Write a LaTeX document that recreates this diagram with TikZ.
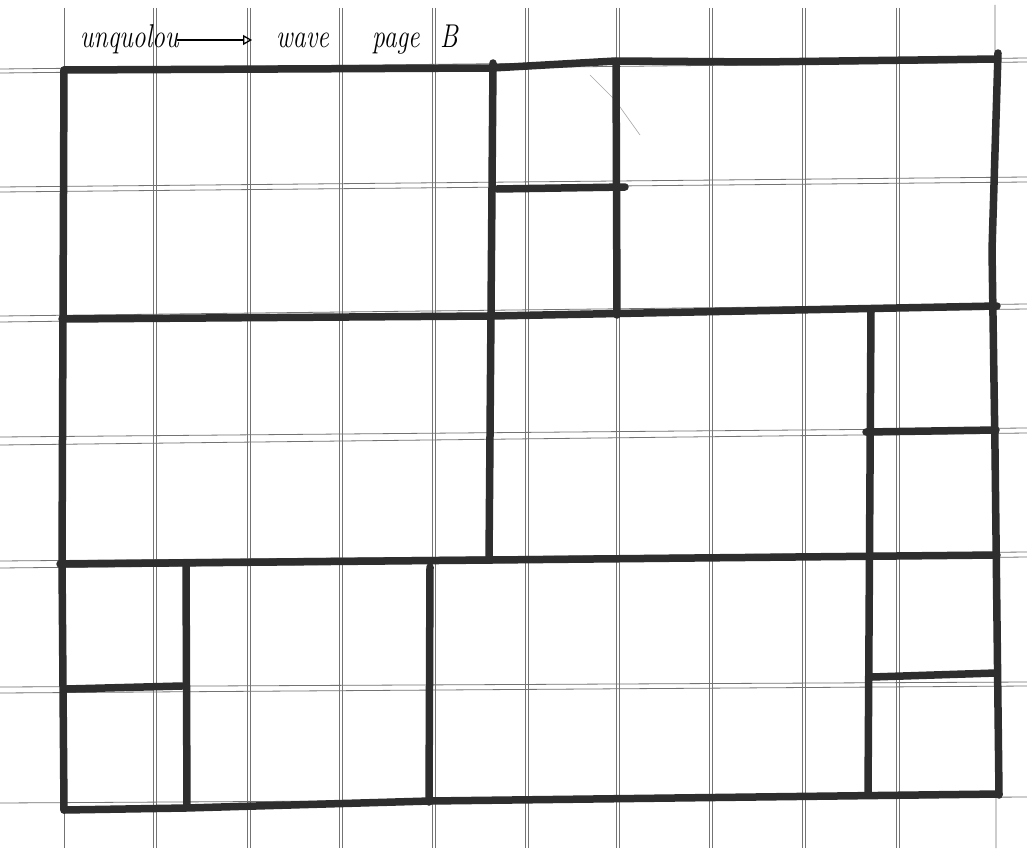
\documentclass[tikz,border=0pt]{standalone}
\usetikzlibrary{arrows.meta}
\begin{document}
\begin{tikzpicture}[x=1pt,y=-1pt,
  gridline/.style={draw=black!55,line width=0.8pt},
  heavy/.style={draw=black!82,line width=7.5pt,line cap=round,line join=round},
  hand/.style={inner sep=0pt,anchor=base west,xscale=0.78,font=\fontsize{33}{36}\selectfont\itshape}]
\useasboundingbox (0,0) rectangle (1027,848);
\fill[white] (0,0) rectangle (1027,848);
% vertical grid lines (double)
\foreach \a/\b in {153/156,247/250,339/342,432/435,525/528,616/619,709/712,802/805,896/899}{
  \draw[gridline] (\a,8) -- (\a,848);
  \draw[gridline] (\b,8) -- (\b,848);
}
\draw[gridline] (64,8) -- (64,848);
\draw[gridline] (995,5) -- (996,848);
% horizontal grid lines (double, slightly tilted)
\foreach \l/\r in {69/58,73/62,187/177,192/182,316/304,322/309,437/428,445/433,561/552,568/557,687/682,693/686,803/797}{
  \draw[gridline] (0,\l) -- (1027,\r);
}
% stray pencil mark
\draw[draw=black!35,line width=0.6pt] (590,75) -- (615,100) -- (640,135);
% outer frame
\draw[heavy] (64,70) -- (492,68) -- (616,61) -- (760,62) -- (997,59);
\draw[heavy] (998,53) -- (992,250) -- (995,450) -- (999,795);
\draw[heavy] (64,70) -- (62,563) -- (64,810);
\draw[heavy] (64,810) -- (186,808) -- (430,801) -- (999,794);
% row lines
\draw[heavy] (62,319) -- (492,316) -- (997,306);
\draw[heavy] (60,564) -- (492,560) -- (997,555);
% inner verticals and short rules
\draw[heavy] (493,63) -- (489,560);
\draw[heavy] (616,62) -- (617,315);
\draw[heavy] (497,189) -- (625,187);
\draw[heavy] (871,310) -- (868,795);
\draw[heavy] (866,432) -- (996,430);
\draw[heavy] (186,566) -- (187,806);
\draw[heavy] (430,567) -- (429,802);
\draw[heavy] (66,689) -- (182,686);
\draw[heavy] (872,677) -- (996,673);
% handwritten title
\node[hand] (t1) at (80,48) {unquolou};
\node[hand] (t2) at (276,48) {wave};
\node[hand] (t3) at (372,48) {page};
\node[hand] (t4) at (440,48) {B};
\draw[line width=1.3pt,-{Triangle[open,length=9pt,width=10pt]}] ([xshift=-2pt,yshift=8pt]t1.base east) -- ([xshift=-24pt,yshift=8pt]t2.base west);
\end{tikzpicture}
\end{document}
